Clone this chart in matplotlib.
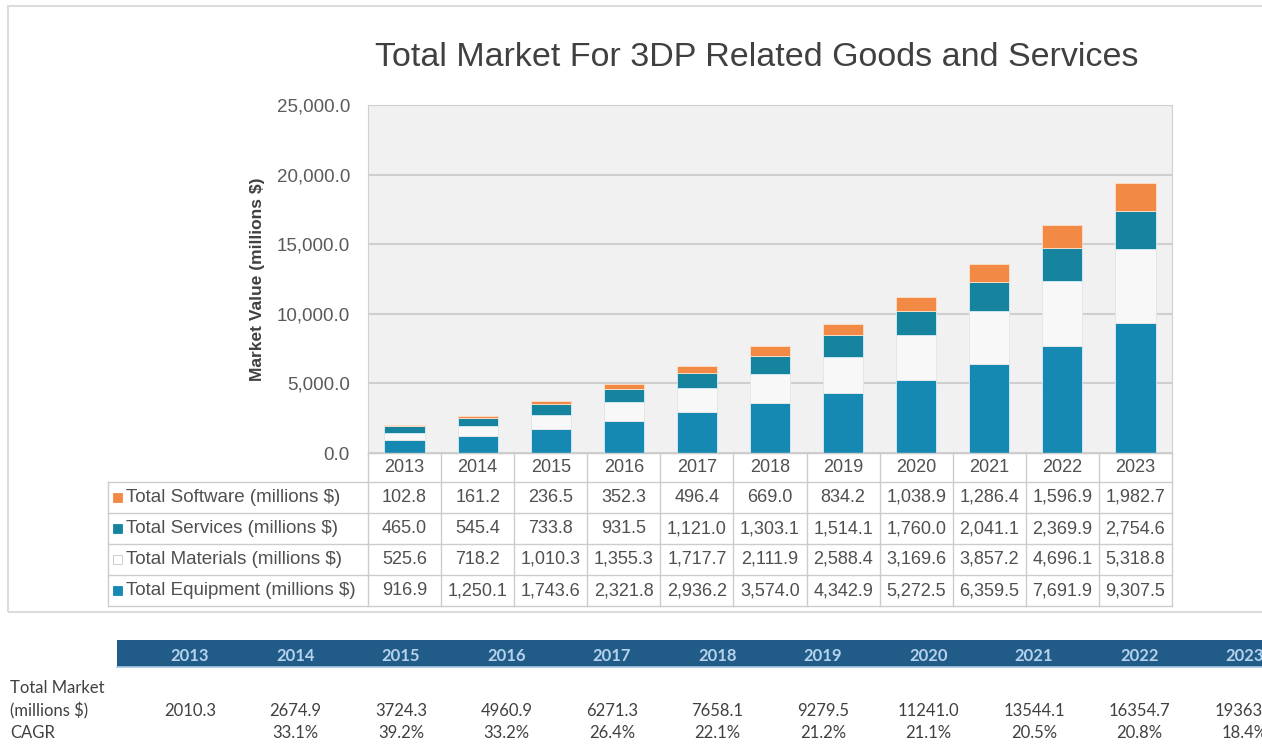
import numpy as np
import matplotlib.pyplot as plt
from matplotlib.patches import Rectangle
from matplotlib.lines import Line2D

# data
years = ['2013', '2014', '2015', '2016', '2017', '2018', '2019', '2020', '2021', '2022', '2023']
software = [102.8, 161.2, 236.5, 352.3, 496.4, 669.0, 834.2, 1038.9, 1286.4, 1596.9, 1982.7]
services = [465.0, 545.4, 733.8, 931.5, 1121.0, 1303.1, 1514.1, 1760.0, 2041.1, 2369.9, 2754.6]
materials = [525.6, 718.2, 1010.3, 1355.3, 1717.7, 2111.9, 2588.4, 3169.6, 3857.2, 4696.1, 5318.8]
equipment = [916.9, 1250.1, 1743.6, 2321.8, 2936.2, 3574.0, 4342.9, 5272.5, 6359.5, 7691.9, 9307.5]
total_market = [2010.3, 2674.9, 3724.3, 4960.9, 6271.3, 7658.1, 9279.5, 11241.0, 13544.1, 16354.7, 19363.1]
cagr = ['', '33.1%', '39.2%', '33.2%', '26.4%', '22.1%', '21.2%', '21.1%', '20.5%', '20.8%', '18.4%']

series_names = ['Total Software (millions $)', 'Total Services (millions $)',
                'Total Materials (millions $)', 'Total Equipment (millions $)']
col_equip = '#1689b3'
col_serv = '#16849f'
col_mat = '#f8f8f8'
col_soft = '#f28a45'

W, H = 1262, 747
fig = plt.figure(figsize=(W / 100, H / 100), dpi=100)
plt.rcParams['font.family'] = ['Liberation Sans', 'DejaVu Sans']

def fx(px):
    return px / W

def fy(py):
    return 1 - py / H

# outer frame of the chart
fig.patches.append(Rectangle((fx(8), fy(612)), fx(1300 - 8), (612 - 6) / H, transform=fig.transFigure,
                             fill=False, edgecolor='#dcdcdc', linewidth=1.5))

# plot area
left, right, top, bottom = 368, 1172, 105, 453
ax = fig.add_axes([fx(left), fy(bottom), fx(right - left), (bottom - top) / H])
ax.set_facecolor('#f1f1f1')
x = np.arange(len(years))
bw = 0.55
equipment = np.array(equipment)
materials = np.array(materials)
services = np.array(services)
software = np.array(software)
ax.bar(x, equipment, bw, color=col_equip, edgecolor='#d8eef6', linewidth=0.6, zorder=3)
ax.bar(x, materials, bw, bottom=equipment, color=col_mat, edgecolor='#e4e4e4', linewidth=0.6, zorder=3)
ax.bar(x, services, bw, bottom=equipment + materials, color=col_serv, edgecolor='#d8eef6', linewidth=0.6, zorder=3)
ax.bar(x, software, bw, bottom=equipment + materials + services, color=col_soft, edgecolor='#fbe0cc',
       linewidth=0.6, zorder=3)
ax.set_xlim(-0.5, len(years) - 0.5)
ax.set_ylim(0, 25000)
ax.set_yticks(np.arange(0, 25001, 5000))
ax.set_yticklabels([f'{v:,.1f}' for v in np.arange(0, 25001, 5000)], fontsize=13.5, color='#5a5a5a')
ax.yaxis.grid(True, color='#cfcfcf', linewidth=1.5, zorder=0)
ax.set_xticks([])
ax.tick_params(axis='y', length=0, pad=13)
for s in ax.spines.values():
    s.set_color('#d0d0d0')
ax.set_ylabel('Market Value (millions $)', fontsize=12.5, fontweight='bold', color='#404040', labelpad=8)

fig.text(fx(757), fy(58), 'Total Market For 3DP Related Goods and Services', fontsize=24.5,
         color='#404040', ha='center', va='center')

# data table under the plot
colw = (right - left) / len(years)
row_edges = [453, 482, 513, 544, 575, 606]
lab_left = 108
gc = '#cccccc'
tfs = 13.5
vfs = 13
def hline(y, x0, x1):
    fig.lines.append(Line2D([fx(x0), fx(x1)], [fy(y), fy(y)], transform=fig.transFigure, color=gc, lw=1))
def vline(xp, y0, y1):
    fig.lines.append(Line2D([fx(xp), fx(xp)], [fy(y0), fy(y1)], transform=fig.transFigure, color=gc, lw=1))

hline(row_edges[0], left, right)
for ry in row_edges[1:]:
    hline(ry, lab_left, right)
for i in range(len(years) + 1):
    vline(left + i * colw, row_edges[0], row_edges[-1])
vline(lab_left, row_edges[1], row_edges[-1])

for i, yr in enumerate(years):
    fig.text(fx(left + (i + 0.5) * colw), fy((row_edges[0] + row_edges[1]) / 2), yr,
             fontsize=vfs, color='#505050', ha='center', va='center')

rows = [software, services, materials, equipment]
marks = [col_soft, col_serv, '#ffffff', col_equip]
for r, (name, vals, mc) in enumerate(zip(series_names, rows, marks)):
    yc = (row_edges[r + 1] + row_edges[r + 2]) / 2
    fig.patches.append(Rectangle((fx(113), fy(yc + 4.5)), fx(9), 9 / H, transform=fig.transFigure,
                                 facecolor=mc, edgecolor='#c8c8c8' if mc == '#ffffff' else mc, lw=0.6))
    fig.text(fx(126), fy(yc), name, fontsize=tfs, color='#505050', ha='left', va='center')
    for i, v in enumerate(vals):
        fig.text(fx(left + (i + 0.5) * colw), fy(yc), f'{v:,.1f}', fontsize=vfs, color='#505050',
                 ha='center', va='center')

# summary table at the bottom
fig.patches.append(Rectangle((fx(117), fy(667)), fx(1300 - 117), 27 / H, transform=fig.transFigure,
                             facecolor='#215b88', edgecolor='none'))
fig.lines.append(Line2D([fx(117), fx(1300)], [fy(667), fy(667)], transform=fig.transFigure,
                        color='#a8c8e4', lw=1.2))
xs = np.linspace(190, 1245, len(years))
bfs = 12
for i, yr in enumerate(years):
    fig.text(fx(xs[i]), fy(656), yr, fontsize=bfs, fontweight='bold', color='#b4d2ec',
             ha='center', va='center', family='Lato')
    fig.text(fx(xs[i]), fy(711), f'{total_market[i]:.1f}', fontsize=bfs, color='#404040',
             ha='center', va='center', family='Lato')
    fig.text(fx(xs[i]), fy(733), cagr[i], fontsize=bfs, color='#404040',
             ha='center', va='center', family='Lato')
fig.text(fx(10), fy(688), 'Total Market', fontsize=bfs, color='#404040', ha='left', va='center', family='Lato')
fig.text(fx(10), fy(711), '(millions $)', fontsize=bfs, color='#404040', ha='left', va='center', family='Lato')
fig.text(fx(10), fy(733), 'CAGR', fontsize=bfs, color='#404040', ha='left', va='center', family='Lato')

fig.savefig('out.png', dpi=100)
